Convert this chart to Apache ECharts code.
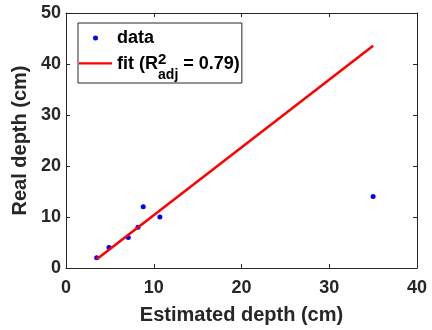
<!DOCTYPE html>
<html>
<head>
<meta charset="utf-8">
<script src="https://cdn.jsdelivr.net/npm/echarts@6/dist/echarts.min.js"></script>
<style>
  html, body { margin: 0; padding: 0; background: #fff; }
  #main { width: 432px; height: 330px; }
</style>
</head>
<body>
<div id="main"></div>
<script>
// measured points (estimated, real)
var estimated = [3.5, 4.9, 7.1, 8.2, 8.8, 10.7, 35.0];
var real = [2, 4, 6, 8, 12, 10, 14];
// fitted line end points
var fitX = [3.5, 35.0];
var fitY = [1.7, 43.6];
var xTicks = [0, 10, 20, 30, 40];
var yTicks = [0, 10, 20, 30, 40, 50];

var chartDom = document.getElementById('main');
var myChart = echarts.init(chartDom, null, { renderer: 'canvas' });

var ink = '#262626';
var font = 'Liberation Sans, Arial, sans-serif';

function axisBase(extra) {
    var a = {
        type: 'value',
        axisLine: { show: true, onZero: false, lineStyle: { color: ink, width: 1 } },
        axisTick: { show: true, inside: true, length: 4, lineStyle: { color: ink } },
        splitLine: { show: false },
        axisLabel: { show: false }
    };
    return Object.assign(a, extra);
}

var tickLabel = { show: true, fontFamily: font, fontWeight: 'bold', fontSize: 18, color: ink };
var titleStyle = { fontFamily: font, fontWeight: 'bold', fontSize: 20, color: ink };

// legend text pieces inside a 30px line: superscript high, subscript low
var legendRich = {
    t: { fontFamily: font, fontWeight: 'bold', fontSize: 18, color: '#000', lineHeight: 20 },
    m: { fontFamily: font, fontWeight: 'bold', fontSize: 18, color: '#000', lineHeight: 30, height: 24, verticalAlign: 'top' },
    sup: { fontFamily: font, fontWeight: 'bold', fontSize: 15, color: '#000', lineHeight: 30, height: 16, verticalAlign: 'top', width: 0.1 },
    sub: { fontFamily: font, fontWeight: 'bold', fontSize: 14, color: '#000', lineHeight: 30, height: 14, verticalAlign: 'bottom' }
};

var option = {
    animation: false,
    backgroundColor: '#fff',
    grid: { left: 66, right: 15, top: 13, bottom: 62 },
    legend: {
        left: 78,
        top: 23,
        orient: 'vertical',
        backgroundColor: '#fff',
        borderColor: ink,
        borderWidth: 1,
        borderRadius: 0,
        padding: [6, 2, 1, 1],
        itemGap: 5,
        itemWidth: 33,
        itemHeight: 14,
        textStyle: {
            fontFamily: font,
            fontWeight: 'bold',
            fontSize: 18,
            color: '#000',
            rich: legendRich
        },
        formatter: function (name) {
            if (name === 'fit') {
                return '{m|fit (R}{sup|2}{sub|adj}{m| = 0.79)}';
            }
            return '{t|' + name + '}';
        },
        data: [
            { name: 'data', icon: 'path://M0,0M33,14M14,7a2.5,2.5 0 1,0 5,0a2.5,2.5 0 1,0 -5,0Z', itemStyle: { color: '#0000ff' } },
            { name: 'fit', icon: 'path://M0,0M33,14M0,2.2L33,2.2L33,4.6L0,4.6Z', itemStyle: { color: '#ff0000' } }
        ]
    },
    xAxis: [
        axisBase({
            min: xTicks[0],
            max: xTicks[xTicks.length - 1],
            interval: 10,
            name: 'Estimated depth (cm)',
            nameLocation: 'middle',
            nameGap: 37,
            nameTextStyle: titleStyle,
            axisLabel: Object.assign({ margin: 11 }, tickLabel)
        }),
        axisBase({
            position: 'top',
            min: xTicks[0],
            max: xTicks[xTicks.length - 1],
            interval: 10
        })
    ],
    yAxis: [
        axisBase({
            min: yTicks[0],
            max: yTicks[yTicks.length - 1],
            interval: 10,
            name: 'Real depth (cm)',
            nameLocation: 'middle',
            nameGap: 31,
            nameTextStyle: titleStyle,
            axisLabel: Object.assign({ margin: 5 }, tickLabel)
        }),
        axisBase({
            position: 'right',
            min: yTicks[0],
            max: yTicks[yTicks.length - 1],
            interval: 10
        })
    ],
    series: [
        {
            name: 'data',
            type: 'scatter',
            symbol: 'circle',
            symbolSize: 5,
            itemStyle: { color: '#0000ff', opacity: 1 },
            data: estimated.map(function (x, i) { return [x, real[i]]; })
        },
        {
            name: 'fit',
            type: 'line',
            symbol: 'none',
            lineStyle: { color: '#ff0000', width: 2.5 },
            itemStyle: { color: '#ff0000' },
            data: fitX.map(function (x, i) { return [x, fitY[i]]; })
        }
    ]
};

option && myChart.setOption(option);
</script>
</body>
</html>
